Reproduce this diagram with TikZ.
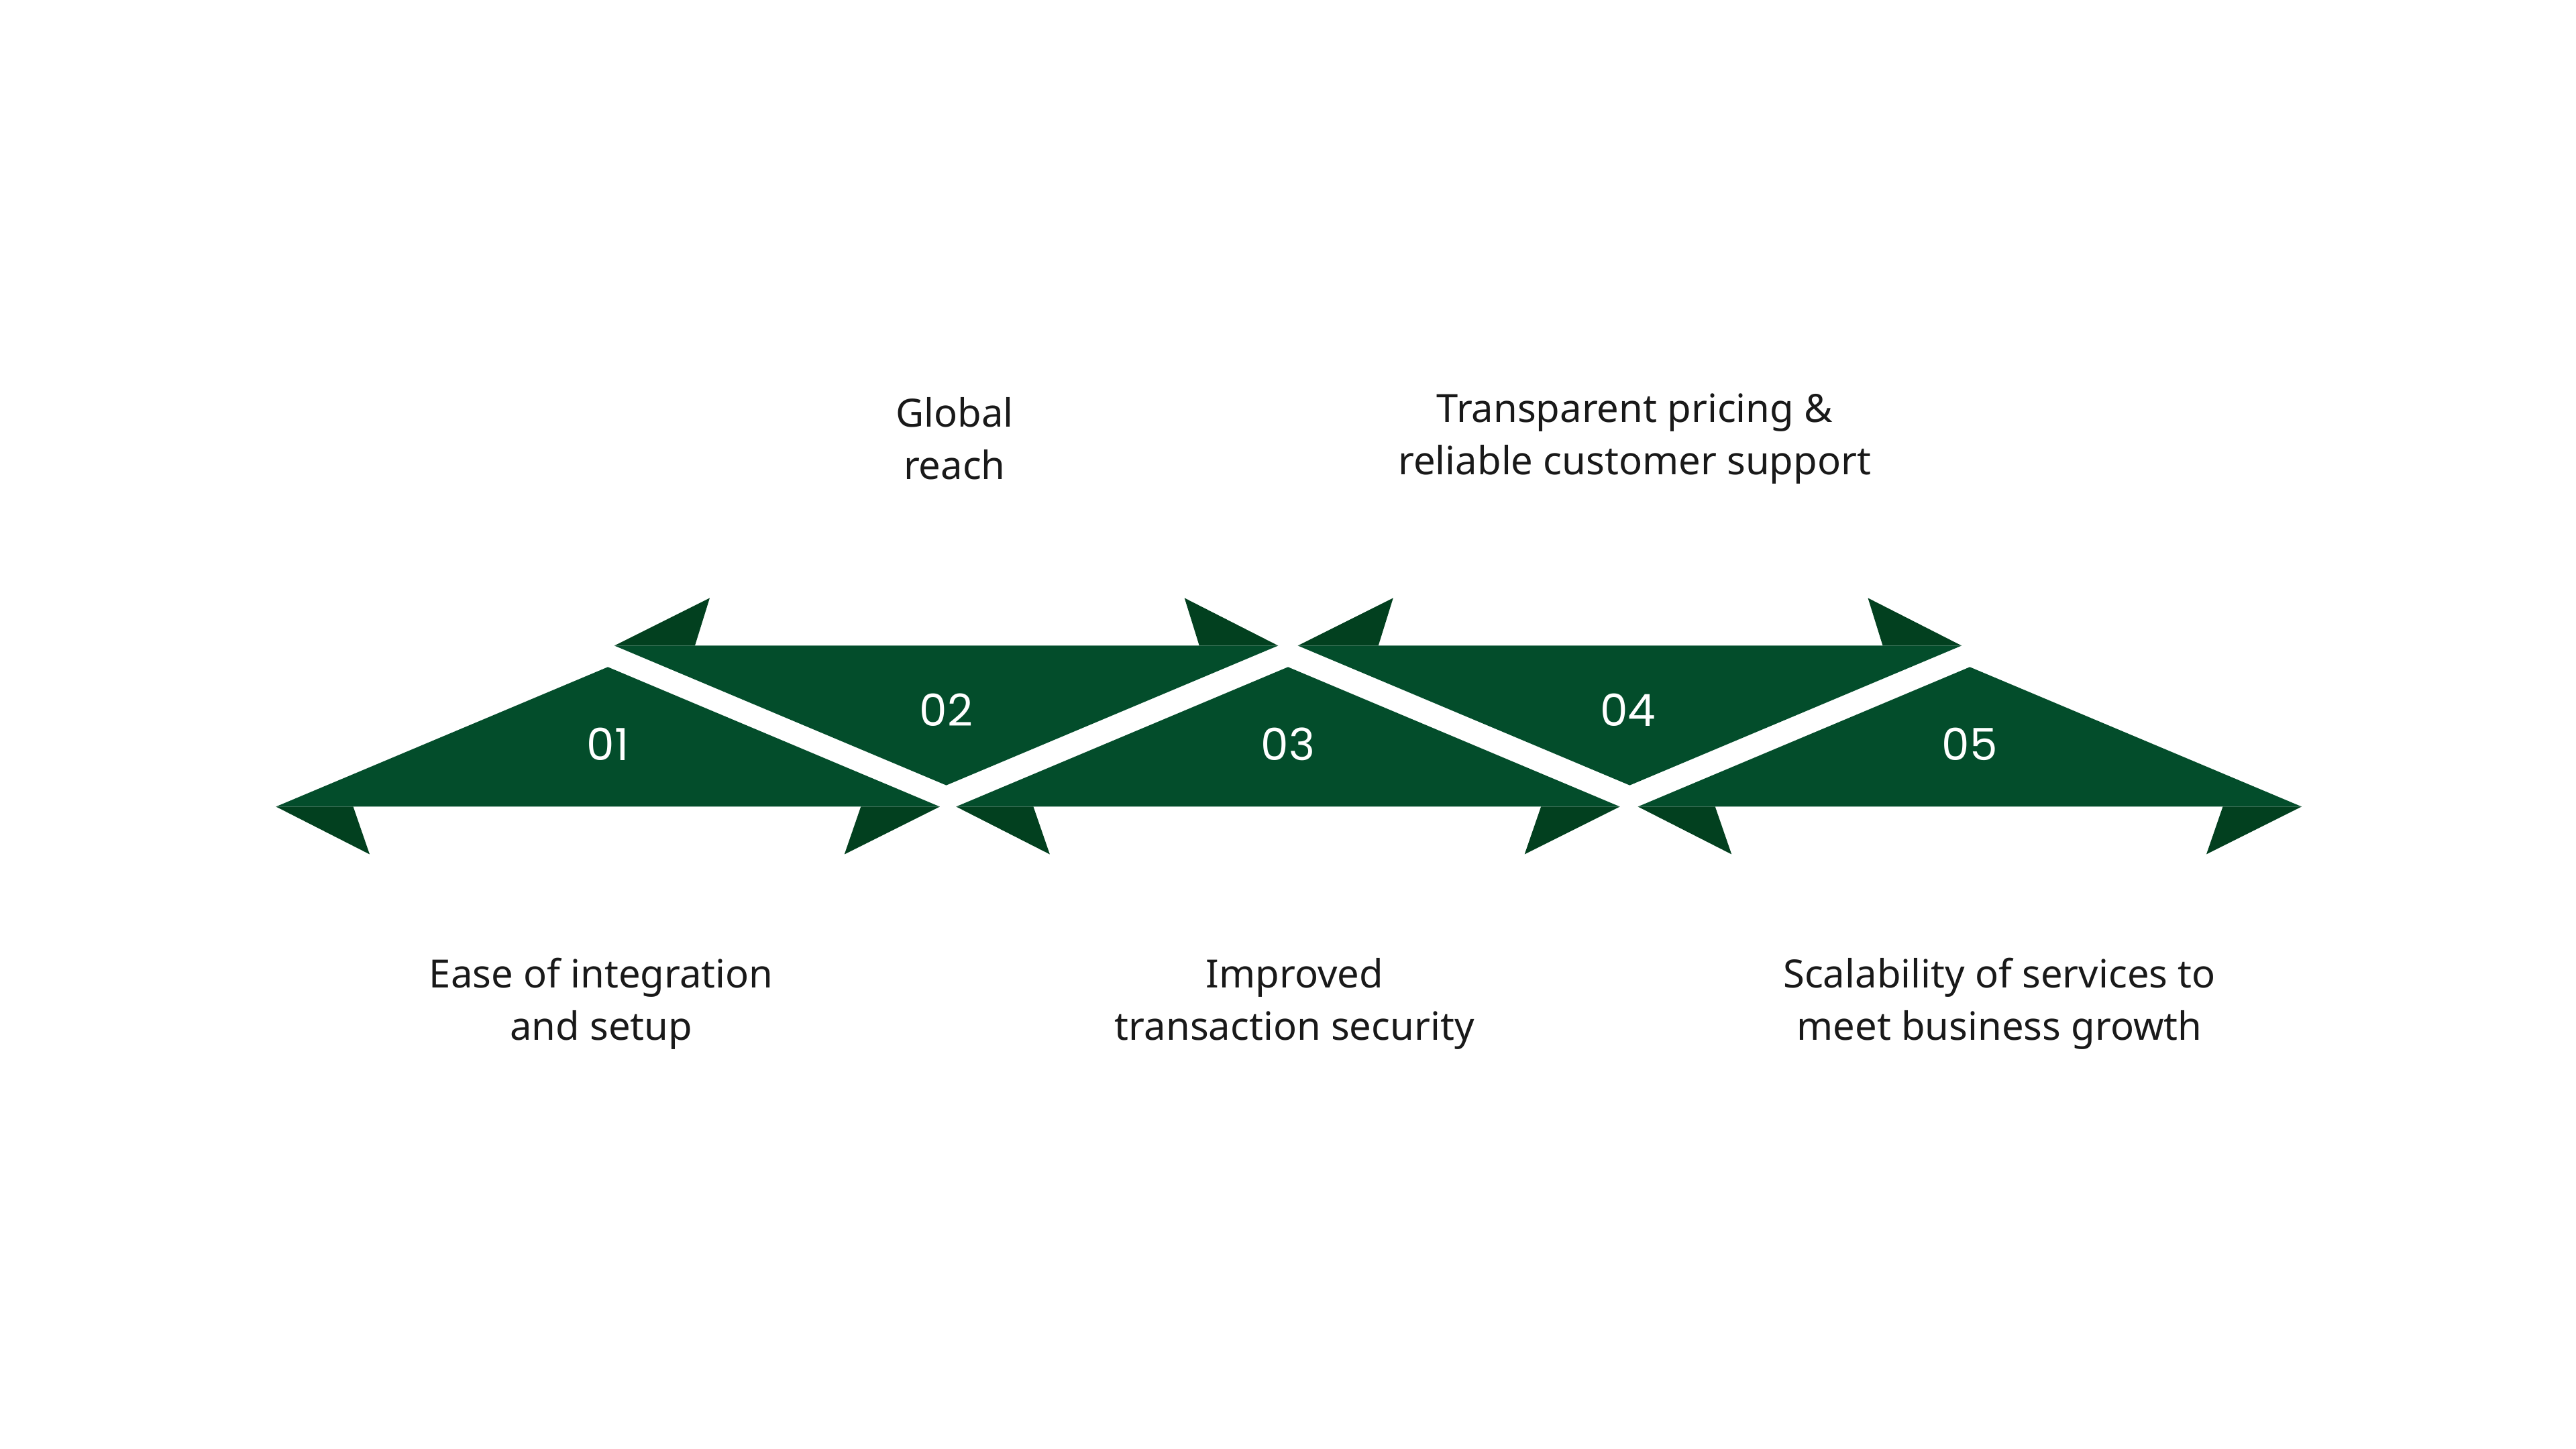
\documentclass[tikz,border=0pt]{standalone}
\usepackage{fontspec}
\setmainfont{Noto Sans}
\newfontfamily\numfont{Poppins}
\usetikzlibrary{positioning}
\definecolor{leafgreen}{HTML}{034D2B}
\definecolor{flapgreen}{HTML}{02401F}
\tikzset{
    band/.style={fill=leafgreen},
    flap/.style={fill=flapgreen},
    stepnum/.style={text=white, font=\numfont\fontsize{66}{70}\selectfont},
    caption/.style={align=center, text=black!90, font=\fontsize{58}{78}\selectfont}
}
\begin{document}
\begin{tikzpicture}[x=2.449pt, y=-2.449pt]
    \useasboundingbox (0,0) rectangle (1568,882);
    % upward triangles 01, 03, 05
    \foreach \x in {168,582,997}{
        \fill[flap] (\x,491) -- (\x+57,520) -- (\x+47,491) -- cycle;
        \fill[flap] (\x+404,491) -- (\x+346,520) -- (\x+356,491) -- cycle;
        \fill[band] (\x,491) -- (\x+202,406) -- (\x+404,491) -- cycle;
    }
    % downward triangles 02, 04
    \foreach \x in {374,790}{
        \fill[flap] (\x,393) -- (\x+58,364) -- (\x+49,393) -- cycle;
        \fill[flap] (\x+404,393) -- (\x+347,364) -- (\x+356,393) -- cycle;
        \fill[band] (\x,393) -- (\x+404,393) -- (\x+202,478) -- cycle;
    }
    \node[stepnum] (n1) at (370,453) {01};
    \node[stepnum] (n2) at (576,432) {02};
    \node[stepnum] (n3) at (784,453) {03};
    \node[stepnum] (n4) at (991,432) {04};
    \node[stepnum] (n5) at (1199,453) {05};

    \node[caption] (c2) at (581,267) {Global\\reach};
    \node[caption] (c4) at (995,267) {Transparent pricing \&\\reliable customer support};
    \node[caption] (c1) at (366,611) {Ease of integration\\and setup};
    \node[caption] (c3) at (788,611) {Improved\\transaction security};
    \node[caption] (c5) at (1217,611) {Scalability of services to\\meet business growth};
\end{tikzpicture}
\end{document}
